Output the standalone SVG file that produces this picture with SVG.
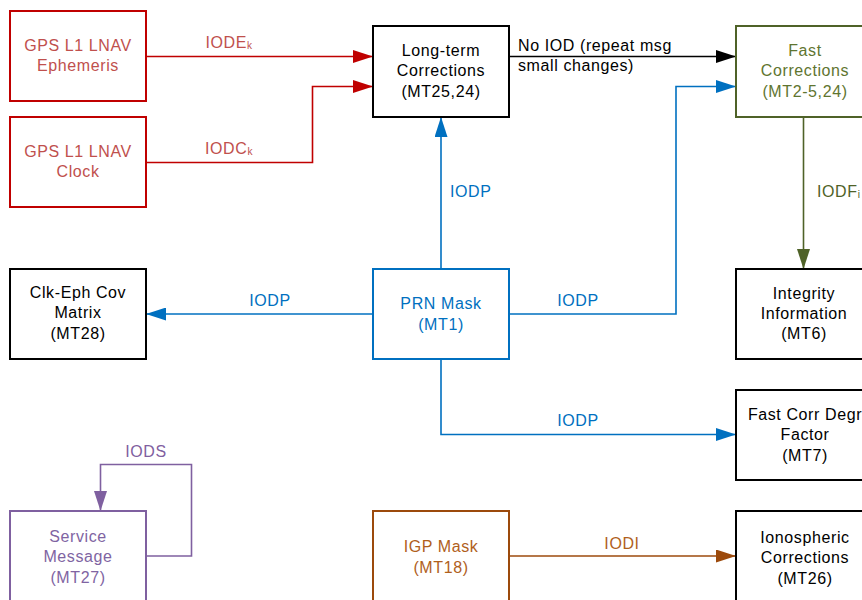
<svg xmlns="http://www.w3.org/2000/svg" width="862" height="600" viewBox="0 0 862 600">
<defs>
<style>
text{font-family:"Liberation Sans",Arial,sans-serif;font-size:16px;text-anchor:middle;letter-spacing:0.6px}
.box{fill:#fff;stroke-width:2}
.ln{fill:none;stroke-width:1.6}
.lbl{text-anchor:start}
.sub{font-size:10px}
</style>
<marker id="aR" markerUnits="userSpaceOnUse" markerWidth="20" markerHeight="13" refX="20" refY="6.5" orient="auto"><path d="M0,0 L20,6.5 L0,13 z" fill="#C00000"/></marker>
<marker id="aK" markerUnits="userSpaceOnUse" markerWidth="20" markerHeight="13" refX="20" refY="6.5" orient="auto"><path d="M0,0 L20,6.5 L0,13 z" fill="#000"/></marker>
<marker id="aB" markerUnits="userSpaceOnUse" markerWidth="20" markerHeight="13" refX="20" refY="6.5" orient="auto"><path d="M0,0 L20,6.5 L0,13 z" fill="#0070C0"/></marker>
<marker id="aG" markerUnits="userSpaceOnUse" markerWidth="20" markerHeight="13" refX="20" refY="6.5" orient="auto"><path d="M0,0 L20,6.5 L0,13 z" fill="#4F6228"/></marker>
<marker id="aP" markerUnits="userSpaceOnUse" markerWidth="20" markerHeight="13" refX="20" refY="6.5" orient="auto"><path d="M0,0 L20,6.5 L0,13 z" fill="#7F60A0"/></marker>
<marker id="aO" markerUnits="userSpaceOnUse" markerWidth="20" markerHeight="13" refX="20" refY="6.5" orient="auto"><path d="M0,0 L20,6.5 L0,13 z" fill="#9C4A0C"/></marker>
</defs>
<rect width="862" height="600" fill="#fff"/>
<g id="connectors">
<path class="ln" stroke="#C00000" d="M146,56.5 H373" marker-end="url(#aR)"/>
<path class="ln" stroke="#C00000" d="M146,162.5 H312.5 V86.5 H373" marker-end="url(#aR)"/>
<path class="ln" stroke="#000" d="M509,56.5 H736" marker-end="url(#aK)"/>
<path class="ln" stroke="#0070C0" d="M441,269 V117" marker-end="url(#aB)"/>
<path class="ln" stroke="#0070C0" d="M509,314 H676 V86.5 H736" marker-end="url(#aB)"/>
<path class="ln" stroke="#0070C0" d="M373,314 H146" marker-end="url(#aB)"/>
<path class="ln" stroke="#0070C0" d="M441,359 V434.5 H736" marker-end="url(#aB)"/>
<path class="ln" stroke="#4F6228" d="M803.5,117 V269" marker-end="url(#aG)"/>
<path class="ln" stroke="#7F60A0" d="M146,556 H191.5 V464.5 H100.5 V511" marker-end="url(#aP)"/>
<path class="ln" stroke="#9C4A0C" d="M509,556 H736" marker-end="url(#aO)"/>
<text x="229" y="48" fill="#C0504D">IODE<tspan class="sub" dy="1">k</tspan></text>
<text x="229" y="154" fill="#C0504D">IODC<tspan class="sub" dy="1">k</tspan></text>
<text class="lbl" x="518" y="51" fill="#000">No IOD (repeat msg</text>
<text class="lbl" x="518" y="71" fill="#000">small changes)</text>
<text class="lbl" x="450" y="197" fill="#0070C0">IODP</text>
<text class="lbl" x="817" y="197" fill="#4F6228">IODF<tspan class="sub" dy="1">i</tspan></text>
<text x="270" y="306" fill="#0070C0">IODP</text>
<text x="578" y="306" fill="#0070C0">IODP</text>
<text x="578" y="426" fill="#0070C0">IODP</text>
<text x="146" y="457" fill="#7F60A0">IODS</text>
<text x="622" y="549" fill="#B0601C">IODI</text>
</g>
<g id="gps-eph">
<rect class="box" x="10" y="11" width="136" height="90" stroke="#C00000"/>
<text x="78" y="51" fill="#C0504D">GPS L1 LNAV</text>
<text x="78" y="71" fill="#C0504D">Ephemeris</text>
</g>
<g id="gps-clock">
<rect class="box" x="10" y="117" width="136" height="90" stroke="#C00000"/>
<text x="78" y="157" fill="#C0504D">GPS L1 LNAV</text>
<text x="78" y="177" fill="#C0504D">Clock</text>
</g>
<g id="long-term">
<rect class="box" x="373" y="26" width="136" height="91" stroke="#000"/>
<text x="441" y="56" fill="#000">Long-term</text>
<text x="441" y="76" fill="#000">Corrections</text>
<text x="441" y="97" fill="#000">(MT25,24)</text>
</g>
<g id="fast-corr">
<rect class="box" x="736" y="26" width="136" height="91" stroke="#4F6228"/>
<text x="805" y="56" fill="#5F7530">Fast</text>
<text x="805" y="76" fill="#5F7530">Corrections</text>
<text x="805" y="97" fill="#5F7530">(MT2-5,24)</text>
</g>
<g id="clk-eph">
<rect class="box" x="10" y="269" width="136" height="90" stroke="#000"/>
<text x="78" y="298" fill="#000">Clk-Eph Cov</text>
<text x="78" y="318" fill="#000">Matrix</text>
<text x="78" y="339" fill="#000">(MT28)</text>
</g>
<g id="prn-mask">
<rect class="box" x="373" y="269" width="136" height="90" stroke="#0070C0"/>
<text x="441" y="309" fill="#0070C0">PRN Mask</text>
<text x="441" y="330" fill="#0070C0">(MT1)</text>
</g>
<g id="integrity">
<rect class="box" x="736" y="269" width="136" height="90" stroke="#000"/>
<text x="804" y="299" fill="#000">Integrity</text>
<text x="804" y="319" fill="#000">Information</text>
<text x="804" y="339" fill="#000">(MT6)</text>
</g>
<g id="fast-degr">
<rect class="box" x="736" y="390" width="136" height="90" stroke="#000"/>
<text x="805" y="420" fill="#000">Fast Corr Degr</text>
<text x="805" y="440" fill="#000">Factor</text>
<text x="805" y="461" fill="#000">(MT7)</text>
</g>
<g id="service">
<rect class="box" x="10" y="511" width="136" height="92" stroke="#7F60A0"/>
<text x="78" y="542" fill="#8064A2">Service</text>
<text x="78" y="562" fill="#8064A2">Message</text>
<text x="78" y="583" fill="#8064A2">(MT27)</text>
</g>
<g id="igp-mask">
<rect class="box" x="373" y="511" width="136" height="92" stroke="#9C4A0C"/>
<text x="441" y="552" fill="#B0601C">IGP Mask</text>
<text x="441" y="573" fill="#B0601C">(MT18)</text>
</g>
<g id="iono">
<rect class="box" x="736" y="511" width="136" height="92" stroke="#000"/>
<text x="805" y="543" fill="#000">Ionospheric</text>
<text x="805" y="563" fill="#000">Corrections</text>
<text x="805" y="584" fill="#000">(MT26)</text>
</g>
</svg>
